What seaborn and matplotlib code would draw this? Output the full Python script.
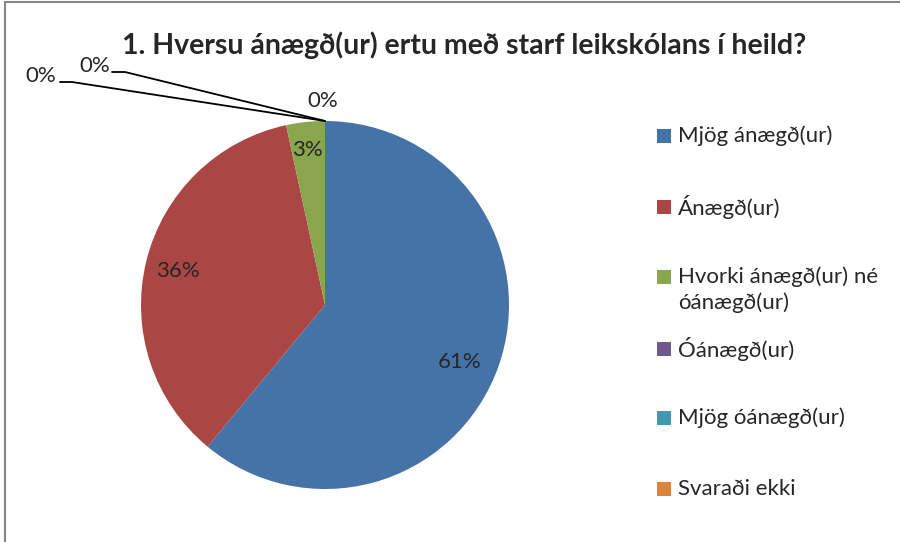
import matplotlib
matplotlib.use("Agg")
import matplotlib.pyplot as plt
import seaborn as sns
from matplotlib.patches import Rectangle

# ---- data ----
categories = ["Mjög ánægð(ur)", "Ánægð(ur)", "Hvorki ánægð(ur) né\nóánægð(ur)",
              "Óánægð(ur)", "Mjög óánægð(ur)", "Svaraði ekki"]
counts = [36, 21, 2, 0, 0, 0]
colors = ["#4572A7", "#AA4643", "#89A54E", "#71588F", "#4198AF", "#DB843D"]
title = "1. Hversu ánægð(ur) ertu með starf leikskólans í heild?"

sns.set_theme(style="white")
plt.rcParams["font.family"] = ["Lato", "DejaVu Sans"]

W, H = 900, 542
fig = plt.figure(figsize=(W / 100, H / 100), dpi=100)
ax = fig.add_axes([0, 0, 1, 1])

# pie in pixel coordinates (y measured from bottom)
cx, cy, r = 325, H - 305, 184
wedges, _ = ax.pie(counts, colors=colors, startangle=90, counterclock=False,
                   center=(cx, cy), radius=r, frame=True,
                   wedgeprops=dict(linewidth=0))
ax.set_xlim(0, W)
ax.set_ylim(0, H)
ax.axis("off")

FS = 16
total = sum(counts)
pcts = [f"{round(100 * c / total)}%" for c in counts]

# labels inside the non-zero slices
ax.text(460, H - 362, pcts[0], ha="center", va="center", fontsize=FS)
ax.text(178, H - 271, pcts[1], ha="center", va="center", fontsize=FS)
ax.text(307, H - 150, pcts[2], ha="center", va="center", fontsize=FS)

# zero slices with leader lines
top = (cx, cy + r)
ax.text(41, H - 76, pcts[3], ha="center", va="center", fontsize=FS)
ax.plot([60, 72, top[0]], [H - 82, H - 82, top[1]], color="black", lw=1.3)
ax.text(95, H - 66, pcts[4], ha="center", va="center", fontsize=FS)
ax.plot([112, 125, top[0]], [H - 72, H - 72, top[1]], color="black", lw=1.3)
ax.text(323, H - 101, pcts[5], ha="center", va="center", fontsize=FS)

# title
ax.text(464, H - 45, title, ha="center", va="center", fontsize=20.5, fontweight="bold")

# legend
rows = [136, 207, 277, 349, 418, 489]
for lab, col, y in zip(categories, colors, rows):
    ax.add_patch(Rectangle((657, H - y - 7), 14, 14, color=col, lw=0))
    for i, line in enumerate(lab.split("\n")):
        ax.text(678, H - y - 26 * i, line, ha="left", va="center", fontsize=FS)

# chart border
ax.add_patch(Rectangle((5, -20), W, H - 2 + 20, fill=False, edgecolor="#868686", lw=1.5))

fig.savefig("out.png", dpi=100)
